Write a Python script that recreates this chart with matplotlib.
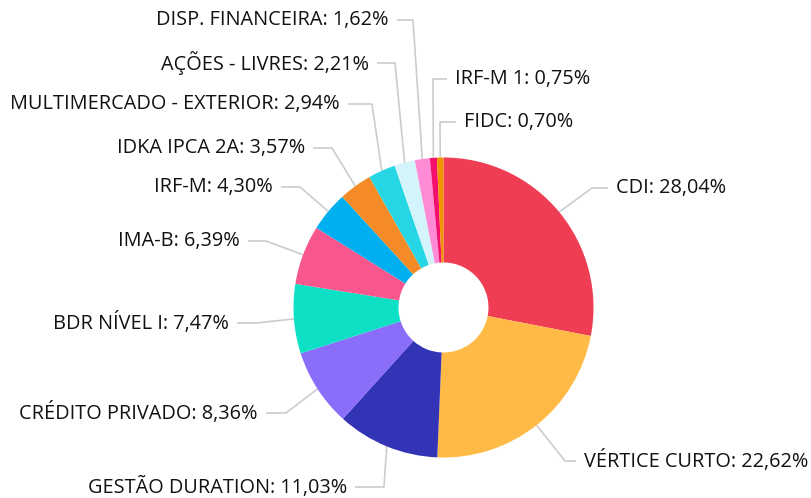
import numpy as np
import matplotlib
matplotlib.use("Agg")
import matplotlib.pyplot as plt

categories = ["CDI", "VÉRTICE CURTO", "GESTÃO DURATION", "CRÉDITO PRIVADO",
              "BDR NÍVEL I", "IMA-B", "IRF-M", "IDKA IPCA 2A",
              "MULTIMERCADO - EXTERIOR", "AÇÕES - LIVRES", "DISP. FINANCEIRA",
              "IRF-M 1", "FIDC"]
values = [28.04, 22.62, 11.03, 8.36, 7.47, 6.39, 4.30, 3.57, 2.94, 2.21, 1.62, 0.75, 0.70]
colors = ["#EF3D54", "#FFBA45", "#3333B5", "#8A6DF8", "#0DE0C5", "#F8578D",
          "#00AFF0", "#F58B27", "#26D6E4", "#D4F4FB", "#FF8BD7", "#F5106E", "#F29300"]

W, H = 812, 498
cx, cy = 443.5, 498 - 307.5
R, r_in = 150, 45

# label layout (pixel coords, y from top): elbow point, label anchor x, side
layout = {
    "CDI":                     ((592, 188), 616, "left"),
    "VÉRTICE CURTO":           ((565, 461), 584, "left"),
    "GESTÃO DURATION":         ((384, 487), 347, "right"),
    "CRÉDITO PRIVADO":         ((286, 413), 258, "right"),
    "BDR NÍVEL I":             ((256, 323), 229, "right"),
    "IMA-B":                   ((266, 241), 240, "right"),
    "IRF-M":                   ((300, 187), 273, "right"),
    "IDKA IPCA 2A":            ((332, 148), 305, "right"),
    "MULTIMERCADO - EXTERIOR": ((372, 104), 340, "right"),
    "AÇÕES - LIVRES":          ((395, 63), 369, "right"),
    "DISP. FINANCEIRA":        ((413, 20), 389, "right"),
    "IRF-M 1":                 ((433, 79), 455, "left"),
    "FIDC":                    ((440, 122), 464, "left"),
}

fig = plt.figure(figsize=(W / 100, H / 100), dpi=100)
ax = fig.add_axes([0, 0, 1, 1])
wedges, _ = ax.pie(values, colors=colors, startangle=90, counterclock=False,
                   center=(cx, cy), radius=R,
                   wedgeprops=dict(width=R - r_in, linewidth=0))
ax.set_xlim(0, W)
ax.set_ylim(0, H)
ax.set_aspect("equal")
ax.axis("off")

for w, cat, val in zip(wedges, categories, values):
    mid = np.deg2rad((w.theta1 + w.theta2) / 2)
    ex, ey = cx + R * np.cos(mid), cy + R * np.sin(mid)
    (bx, by_px), tx, side = layout[cat]
    by = H - by_px
    gap = 8
    ax.plot([ex, bx, tx + (-gap if side == "left" else gap)], [ey, by, by],
            color="#CCCCCC", lw=1.2, solid_capstyle="butt", zorder=0)
    label = f"{cat}: " + f"{val:.2f}".replace(".", ",") + "%"
    ax.text(tx, by, label, ha=side, va="center", fontsize=14.3,
            family=["Open Sans", "DejaVu Sans"], color="#111111")

fig.savefig("out.png", dpi=100)
